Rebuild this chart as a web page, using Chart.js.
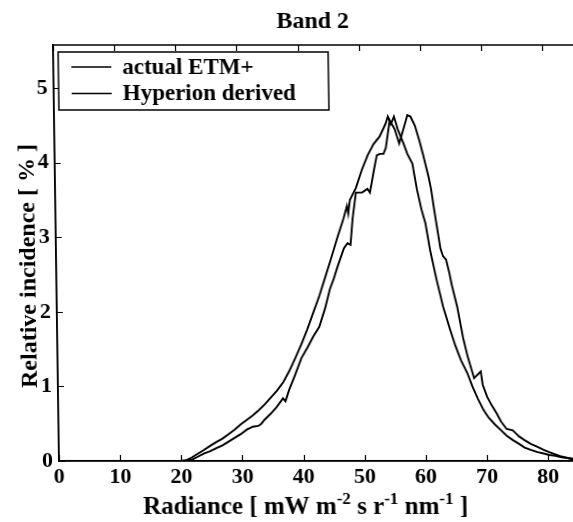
<!DOCTYPE html>
<html><head><meta charset="utf-8">
<script src="https://cdn.jsdelivr.net/npm/chart.js@4/dist/chart.umd.min.js"></script>
<style>
html,body{margin:0;padding:0;background:#fff;overflow:hidden;width:573px;height:522px}
#wrap{position:relative;width:600px;height:522px}
#c{transform-origin:59px 461px;transform:skewX(0.825deg)}
</style></head>
<body><div id="wrap"><canvas id="c" width="600" height="522"></canvas></div>
<script>
const chartTitle = 'Band 2';
const yAxisTitle = 'Relative incidence [ % ]';
const xAxisTitleParts = [['Radiance [ mW m',0],['-2',1],[' s r',0],['-1',1],[' nm',0],['-1',1],[' ]',0]];
const seriesNames = ['actual ETM+', 'Hyperion derived'];
const xTicks = [0,10,20,30,40,50,60,70,80];
const yTicks = [0,1,2,3,4,5];

const etmX = [0,19.8,20.8,21.8,22.8,23.7,24.7,25.7,26.8,27.8,28.8,29.8,30.8,31.8,32.7,33.2,33.7,34.7,35.7,36.8,37.2,37.8,38.8,39.9,40.9,41.9,42.9,43.9,44.7,45.4,46.0,47.1,47.7,48.2,48.6,49.2,50.2,51.1,51.5,52.2,52.7,53.2,53.8,54.2,54.9,55.7,56.4,57.3,57.8,58.3,59.0,59.7,60.3,61.1,61.5,62.0,62.9,63.3,63.8,64.3,64.7,65.5,66.4,67.1,68.1,69.2,69.5,70.2,70.9,71.7,72.4,73.3,74.3,74.8,75.3,76.2,77.2,78.3,79.3,80.2,81.2,82.2,83.2,84.1,85.1];
const etmY = [0,0,0,0.02,0.06,0.10,0.13,0.17,0.21,0.26,0.31,0.36,0.42,0.46,0.47,0.50,0.55,0.63,0.72,0.84,0.80,0.95,1.15,1.38,1.52,1.67,1.80,2.05,2.30,2.45,2.60,2.85,2.92,2.90,3.25,3.60,3.60,3.65,3.60,3.90,4.10,4.12,4.12,4.20,4.57,4.45,4.26,4.50,4.64,4.62,4.50,4.30,4.10,3.82,3.65,3.35,2.85,2.75,2.70,2.52,2.35,2.07,1.65,1.40,1.11,1.20,1.02,0.86,0.75,0.64,0.53,0.43,0.41,0.37,0.33,0.28,0.23,0.19,0.15,0.12,0.09,0.06,0.04,0.02,0.01];

const hypX = [0,19.8,20.8,21.8,22.8,23.8,24.7,25.7,26.8,27.8,28.8,29.8,30.8,31.8,32.8,33.8,34.8,35.8,36.9,37.9,38.9,39.9,40.9,41.9,43.0,44.0,45.0,46.0,47.1,47.7,47.9,48.2,49.2,50.2,51.2,52.2,53.2,54.2,54.6,55.1,55.6,56.2,57.1,57.7,58.5,59.2,59.9,60.5,61.2,62.2,63.2,64.3,65.1,66.0,67.0,67.8,68.7,69.6,70.4,71.4,72.4,73.3,74.3,75.3,76.2,77.2,78.3,79.3,80.2,81.2,82.2,83.2,84.1,85.1];
const hypY = [0,0,0.01,0.05,0.10,0.15,0.20,0.25,0.30,0.36,0.42,0.49,0.55,0.61,0.68,0.76,0.85,0.94,1.06,1.21,1.38,1.56,1.76,1.98,2.22,2.47,2.72,2.98,3.25,3.42,3.32,3.50,3.66,3.90,4.10,4.25,4.35,4.52,4.62,4.52,4.62,4.45,4.26,4.12,3.99,3.64,3.37,3.19,2.83,2.43,2.07,1.76,1.55,1.35,1.18,1.00,0.83,0.68,0.58,0.49,0.41,0.34,0.28,0.23,0.18,0.15,0.12,0.10,0.08,0.07,0.05,0.04,0.03,0.02];

const FONT = 'Liberation Serif, Times New Roman, serif';
const toPts = (xs, ys) => xs.map((x, i) => ({x, y: ys[i]}));

const decor = {
  id: 'decor',
  afterDraw(chart) {
    const ctx = chart.ctx, a = chart.chartArea;
    const xs = chart.scales.x, ys = chart.scales.y;
    ctx.save();
    ctx.strokeStyle = '#000';
    ctx.lineWidth = 1.5;
    ctx.strokeRect(a.left, a.top, a.right - a.left, a.bottom - a.top);
    ctx.lineWidth = 1.2;
    const tl = 6;
    xTicks.forEach(v => {
      const p = Math.round(xs.getPixelForValue(v)) + 0.5;
      ctx.beginPath();
      ctx.moveTo(p, a.bottom); ctx.lineTo(p, a.bottom - tl);
      ctx.moveTo(p, a.top); ctx.lineTo(p, a.top + tl);
      ctx.stroke();
    });
    yTicks.forEach(v => {
      const p = Math.round(ys.getPixelForValue(v)) + 0.5;
      ctx.beginPath();
      ctx.moveTo(a.left, p); ctx.lineTo(a.left + tl, p);
      ctx.moveTo(a.right, p); ctx.lineTo(a.right - tl, p);
      ctx.stroke();
    });
    ctx.fillStyle = '#000';
    // title
    ctx.font = 'bold 24px ' + FONT;
    ctx.textAlign = 'center';
    ctx.textBaseline = 'alphabetic';
    ctx.fillText(chartTitle, 319, 28);
    // y title
    ctx.save();
    ctx.translate(38, 266);
    ctx.rotate(-Math.PI / 2);
    ctx.font = 'bold 24px ' + FONT;
    ctx.fillText(yAxisTitle, 0, 0);
    ctx.restore();
    // x title with superscripts
    const big = 'bold 25px ' + FONT, small = 'bold 17px ' + FONT;
    let total = 0;
    xAxisTitleParts.forEach(([t, s]) => { ctx.font = s ? small : big; total += ctx.measureText(t).width; });
    let cx = 305 - total / 2;
    ctx.textAlign = 'left';
    xAxisTitleParts.forEach(([t, s]) => {
      ctx.font = s ? small : big;
      ctx.fillText(t, cx, s ? 504 : 514);
      cx += ctx.measureText(t).width;
    });
    // legend box
    const lx = 64, ly = 52, lw = 270, lh = 58;
    ctx.fillStyle = '#fff';
    ctx.fillRect(lx, ly, lw, lh);
    ctx.lineWidth = 1.5;
    ctx.strokeRect(lx, ly, lw, lh);
    ctx.fillStyle = '#000';
    ctx.font = 'bold 23px ' + FONT;
    ctx.textBaseline = 'middle';
    chart.data.datasets.forEach((ds, i) => {
      const yy = 67 + i * 26.5;
      ctx.lineWidth = 1.6;
      ctx.beginPath(); ctx.moveTo(77, yy); ctx.lineTo(117, yy); ctx.stroke();
      ctx.fillText(ds.label, 128, yy + 1);
    });
    ctx.restore();
  }
};

new Chart(document.getElementById('c'), {
  type: 'scatter',
  data: {
    datasets: [
      {label: seriesNames[0], data: toPts(etmX, etmY), showLine: true, borderColor: '#000', borderWidth: 1.9, pointRadius: 0, tension: 0},
      {label: seriesNames[1], data: toPts(hypX, hypY), showLine: true, borderColor: '#000', borderWidth: 1.9, pointRadius: 0, tension: 0}
    ]
  },
  options: {
    responsive: false,
    animation: false,
    devicePixelRatio: 1,
    layout: {padding: {left: 0, top: 45, right: 10.4, bottom: 0}},
    plugins: {legend: {display: false}, title: {display: false}, tooltip: {enabled: false}},
    scales: {
      x: {
        type: 'linear', min: 0, max: 86.8,
        afterBuildTicks: s => { s.ticks = xTicks.map(v => ({value: v})); },
        afterFit: s => { s.height = 61; },
        grid: {display: false, drawTicks: false},
        border: {display: true, color: '#000', width: 1.5},
        ticks: {color: '#000', padding: 3, font: {family: FONT, size: 22, weight: 'bold'}, maxRotation: 0, autoSkip: false}
      },
      y: {
        type: 'linear', min: 0, max: 5.58,
        afterBuildTicks: s => { s.ticks = yTicks.map(v => ({value: v})); },
        afterFit: s => { s.width = 59; },
        grid: {display: false, drawTicks: false},
        border: {display: true, color: '#000', width: 1.5},
        ticks: {color: '#000', padding: 6, font: {family: FONT, size: 22, weight: 'bold'}}
      }
    }
  },
  plugins: [decor]
});
</script>
</body></html>
